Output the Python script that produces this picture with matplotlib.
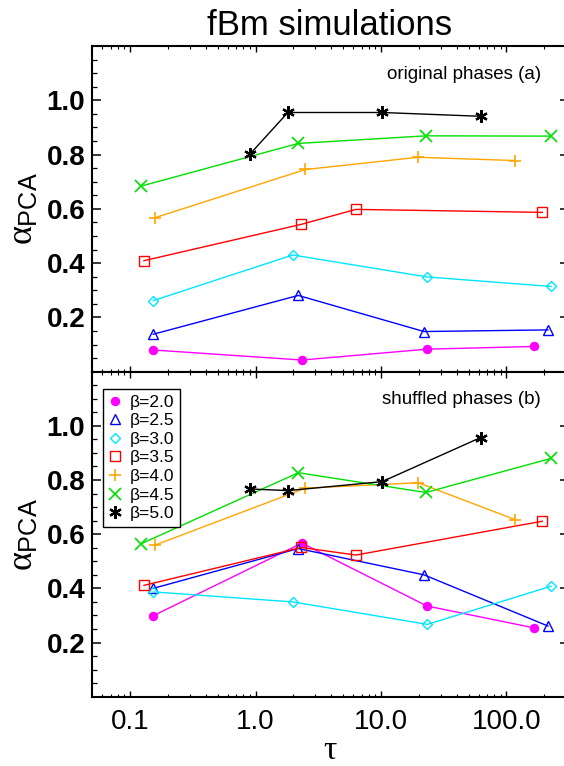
import numpy as np
import matplotlib
matplotlib.use("Agg")
import matplotlib.pyplot as plt
from matplotlib.lines import Line2D
from matplotlib.ticker import FixedLocator, LogLocator, NullFormatter, FixedFormatter

plt.rcParams['font.family'] = ['Liberation Sans', 'DejaVu Sans']
plt.rcParams['mathtext.fontset'] = 'custom'
plt.rcParams['mathtext.rm'] = 'Liberation Sans'
plt.rcParams['mathtext.it'] = 'Liberation Serif'

# spectral slopes of the simulated fBm series
betas = ['2.0', '2.5', '3.0', '3.5', '4.0', '4.5', '5.0']

# time scales (tau) sampled for each beta
tau_b20 = [0.153, 2.34, 23.2, 166.0]
tau_b25 = [0.153, 2.19, 22.0, 214.0]
tau_b30 = [0.153, 1.98, 23.4, 227.0]
tau_b35 = [0.129, 2.32, 6.31, 193.0]
tau_b40 = [0.157, 2.50, 19.8, 117.0]
tau_b45 = [0.123, 2.19, 22.8, 227.0]
tau_b50 = [0.90, 1.81, 10.2, 62.3]

# alpha_PCA, original phases
orig_b20 = [0.080, 0.043, 0.083, 0.093]
orig_b25 = [0.138, 0.281, 0.148, 0.154]
orig_b30 = [0.262, 0.430, 0.349, 0.314]
orig_b35 = [0.409, 0.543, 0.598, 0.587]
orig_b40 = [0.567, 0.745, 0.790, 0.778]
orig_b45 = [0.684, 0.841, 0.869, 0.868]
orig_b50 = [0.801, 0.955, 0.955, 0.941]

# alpha_PCA, shuffled phases
shuf_b20 = [0.299, 0.567, 0.335, 0.254]
shuf_b25 = [0.400, 0.547, 0.450, 0.261]
shuf_b30 = [0.387, 0.350, 0.267, 0.408]
shuf_b35 = [0.411, 0.551, 0.523, 0.648]
shuf_b40 = [0.559, 0.770, 0.790, 0.654]
shuf_b45 = [0.565, 0.827, 0.754, 0.880]
shuf_b50 = [0.767, 0.761, 0.794, 0.957]

taus = [tau_b20, tau_b25, tau_b30, tau_b35, tau_b40, tau_b45, tau_b50]
orig = [orig_b20, orig_b25, orig_b30, orig_b35, orig_b40, orig_b45, orig_b50]
shuf = [shuf_b20, shuf_b25, shuf_b30, shuf_b35, shuf_b40, shuf_b45, shuf_b50]

colors = ['#ff00ff', '#0000ff', '#00e5ff', '#ff0000', '#ffa500', '#00e000', '#000000']
styles = [
    dict(marker='o', ms=6, mfc='#ff00ff', mew=0.8),
    dict(marker='^', ms=7.5, mfc='none', mew=1.0),
    dict(marker='D', ms=5.5, mfc='none', mew=1.0),
    dict(marker='s', ms=7.5, mfc='none', mew=1.0),
    dict(marker='+', ms=9, mew=1.2),
    dict(marker='x', ms=8, mew=1.2),
    dict(marker=(6, 2, 0), ms=9, mew=1.6),
]

fig = plt.figure(figsize=(5.64, 7.66), dpi=100)
W, H = 564.0, 766.0
# right frame edge sits just past the figure border
left, right = 92.3, 569.0
ax_top = fig.add_axes([left / W, (H - 371.7) / H, (right - left) / W, 325.7 / H])
ax_bot = fig.add_axes([left / W, (H - 696.7) / H, (right - left) / W, 325.0 / H])


def style_axes(ax, show_x_labels):
    ax.set_xscale('log')
    ax.set_xlim(0.05, 315)
    ax.set_ylim(0, 1.2)
    for sp in ax.spines.values():
        sp.set_linewidth(1.5)
    ax.yaxis.set_major_locator(FixedLocator([0.2, 0.4, 0.6, 0.8, 1.0]))
    ax.yaxis.set_minor_locator(FixedLocator(np.arange(0.05, 1.2, 0.05)))
    ax.xaxis.set_major_locator(FixedLocator([0.1, 1.0, 10.0, 100.0]))
    ax.xaxis.set_minor_locator(LogLocator(base=10, subs=np.arange(2, 10)))
    ax.xaxis.set_minor_formatter(NullFormatter())
    ax.tick_params(which='both', direction='in', top=True, right=True)
    ax.tick_params(axis='y', which='major', length=6.7, width=1.1, pad=5)
    ax.tick_params(axis='y', which='minor', length=3.6, width=0.9)
    ax.tick_params(axis='x', which='major', length=4.2, width=1.0, pad=9)
    ax.tick_params(axis='x', which='minor', length=2.2, width=0.8)
    ax.set_yticklabels(['0.2', '0.4', '0.6', '0.8', '1.0'], fontsize=20, fontweight='bold')
    if show_x_labels:
        ax.xaxis.set_major_formatter(FixedFormatter(['0.1', '1.0', '10.0', '100.0']))
        for lab in ax.get_xticklabels():
            lab.set_fontsize(20)
    else:
        ax.xaxis.set_major_formatter(NullFormatter())
    ax.set_ylabel(r'$\alpha_{\mathrm{PCA}}$', fontsize=26, labelpad=4)


for ax, vals in ((ax_top, orig), (ax_bot, shuf)):
    for t, v, c, st in zip(taus, vals, colors, styles):
        ax.plot(t, v, color=c, lw=1.0, mec=c, **st)

style_axes(ax_top, False)
style_axes(ax_bot, True)

ax_top.text(0.941, 0.914, 'original phases (a)', transform=ax_top.transAxes,
            ha='right', va='center', fontsize=13.5)
ax_bot.text(0.941, 0.914, 'shuffled phases (b)', transform=ax_bot.transAxes,
            ha='right', va='center', fontsize=13.5)

ax_bot.set_xlabel(r'$\tau$', fontsize=24, labelpad=0)

# legend shows symbols only
handles = [Line2D([], [], ls='none', color=c, mec=c, **st) for c, st in zip(colors, styles)]
labels = ['β=' + b for b in betas]
leg = ax_bot.legend(handles, labels, loc='upper left', bbox_to_anchor=(0.023, 0.946),
                    borderaxespad=0, fancybox=False, edgecolor='black', framealpha=1,
                    fontsize=12.5, handlelength=0.8, handletextpad=0.45,
                    labelspacing=0.2, borderpad=0.3)
leg.get_frame().set_linewidth(1.0)

fig.text((92.3 + 566.0) / 2 / W, (H - 35) / H, 'fBm simulations', ha='center',
         va='baseline', fontsize=25)

fig.savefig('out.png', dpi=100)
